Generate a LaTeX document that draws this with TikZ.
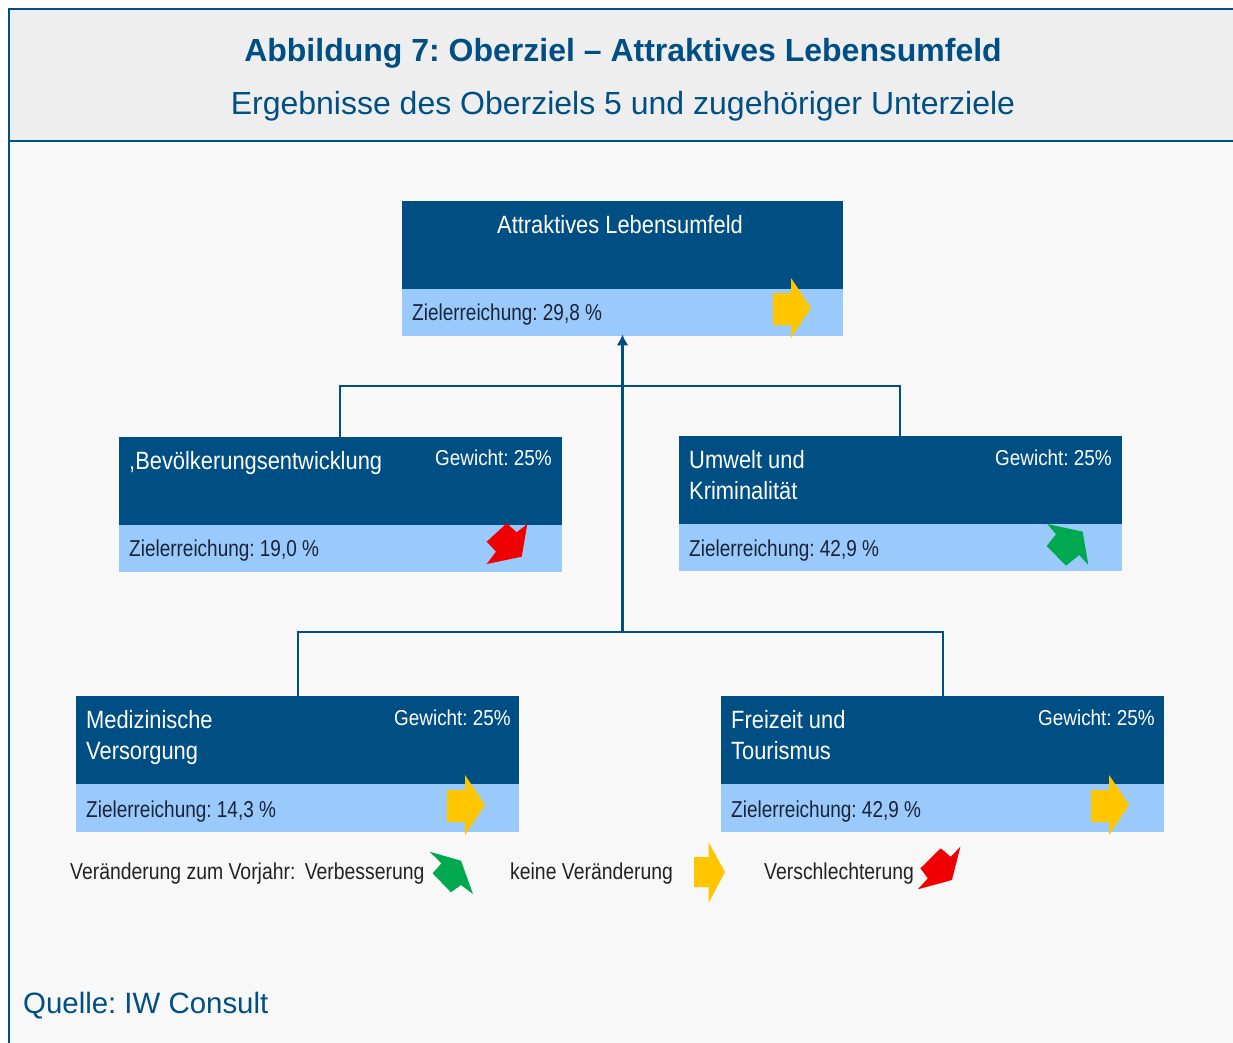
\documentclass[tikz,border=0pt]{standalone}
\usepackage{fontspec}
\usetikzlibrary{arrows.meta}
\setmainfont{Liberation Sans}
\newfontfamily\cond[FakeStretch=0.875]{Liberation Sans}
\newfontfamily\condb[FakeStretch=0.825]{Liberation Sans}
\newfontfamily\condl[FakeStretch=0.843]{Liberation Sans}
\definecolor{iwblue}{HTML}{004F84}
\definecolor{lightbar}{HTML}{9ACAFC}
\definecolor{headbg}{HTML}{EEEEEE}
\definecolor{bodybg}{HTML}{F8F8F8}
\definecolor{bartext}{HTML}{1A2438}
\definecolor{legendcol}{HTML}{222222}
\definecolor{arrowyellow}{HTML}{FFC600}
\definecolor{arrowgreen}{HTML}{00A84F}
\definecolor{arrowred}{HTML}{F00000}
\tikzset{
 darkbox/.style={fill=iwblue,draw=none,inner sep=0pt,anchor=north west,minimum width=443pt,minimum height=88pt},
 lightbox/.style={fill=lightbar,draw=none,inner sep=0pt,anchor=north west,minimum width=443pt,minimum height=47pt},
 titletext/.style={anchor=base west,inner sep=0pt,text=white,font=\cond\fontsize{25}{25}\selectfont},
 weighttext/.style={anchor=base east,inner sep=0pt,text=white,font=\cond\fontsize{21.6}{22}\selectfont},
 bartxt/.style={anchor=base west,inner sep=0pt,text=bartext,font=\condb\fontsize{23}{23}\selectfont},
 legendtxt/.style={anchor=base west,inner sep=0pt,text=legendcol,font=\condl\fontsize{23}{23}\selectfont},
 conn/.style={draw=iwblue,line width=2.8pt},
 yarrow/.pic={\fill[arrowyellow] (-38,-15) -- (-20,-15) -- (-20,-30) -- (0,0) -- (-20,30) -- (-20,17) -- (-38,17) -- cycle;},
}
\frenchspacing
\begin{document}
\begin{tikzpicture}[x=1pt,y=-1pt]
\useasboundingbox (0,0) rectangle (1233,1043);
\fill[white] (0,0) rectangle (1233,1043);
\fill[bodybg] (9,141) rectangle (1233,1043);
\fill[headbg] (9,9) rectangle (1233,141);
\draw[iwblue,line width=2pt] (9,1043) -- (9,9) -- (1233,9);
\draw[iwblue,line width=2pt] (9,141) -- (1233,141);
\node[anchor=base,inner sep=0pt,text=iwblue,font=\bfseries\fontsize{32}{32}\selectfont] (title) at (623,62) {Abbildung 7: Oberziel – Attraktives Lebensumfeld};
\node[anchor=base,inner sep=0pt,text=iwblue,font=\fontsize{32}{32}\selectfont] (subtitle) at (623,115) {Ergebnisse des Oberziels 5 und zugehöriger Unterziele};
% boxes
\node[darkbox,minimum width=441pt] (topD) at (402,201) {};
\node[lightbox,minimum width=441pt] (topL) at (402,289) {};
\node[darkbox] (bevD) at (119,437) {};
\node[lightbox] (bevL) at (119,525) {};
\node[darkbox] (umwD) at (679,436) {};
\node[lightbox] (umwL) at (679,524) {};
\node[darkbox] (medD) at (76,696) {};
\node[lightbox,minimum height=48pt] (medL) at (76,784) {};
\node[darkbox] (freD) at (721,696) {};
\node[lightbox,minimum height=48pt] (freL) at (721,784) {};
% connectors
\coordinate (hub) at (622.5,632);
\coordinate (up) at (622.5,386);
\draw[conn,-{Latex[length=11pt,width=12pt]},shorten >=-2pt] (hub) -- (hub |- topL.south);
\draw[conn] (340,0 |- bevD.north) |- (up) -| (900,0 |- umwD.north);
\draw[conn] (298,0 |- medD.north) |- (hub) -| (943,0 |- freD.north);
% texts
\node[titletext,anchor=base] (t0) at (620,233) {Attraktives Lebensumfeld};
\node[bartxt] (z0) at (412,320) {Zielerreichung: 29,8 \%};
\node[titletext] (t1) at (129,469) {,Bevölkerungsentwicklung};
\node[weighttext] (w1) at (552,465) {Gewicht: 25\%};
\node[bartxt] (z1) at (129,556) {Zielerreichung: 19,0 \%};
\node[titletext] (t2a) at (689,468) {Umwelt und};
\node[titletext] (t2b) at (689,499) {Kriminalität};
\node[weighttext] (w2) at (1112,465) {Gewicht: 25\%};
\node[bartxt] (z2) at (689,556) {Zielerreichung: 42,9 \%};
\node[titletext] (t3a) at (86,728) {Medizinische};
\node[titletext] (t3b) at (86,759) {Versorgung};
\node[weighttext] (w3) at (511,725) {Gewicht: 25\%};
\node[bartxt] (z3) at (86,817) {Zielerreichung: 14,3 \%};
\node[titletext] (t4a) at (731,728) {Freizeit und};
\node[titletext] (t4b) at (731,759) {Tourismus};
\node[weighttext] (w4) at (1155,725) {Gewicht: 25\%};
\node[bartxt] (z4) at (731,817) {Zielerreichung: 42,9 \%};
% trend arrows
\pic at (811,308) {yarrow};
\pic at (485,805) {yarrow};
\pic at (1129,805) {yarrow};
\fill[arrowred] (527.3,524) -- (521.7,556.7) -- (486.7,564) -- (496,551.7) -- (486.7,541.7) -- (506.7,523.3) -- (516.7,532.3) -- cycle;
\fill[arrowgreen] (1047.3,524) -- (1082.7,531.7) -- (1088.3,565) -- (1079.3,555) -- (1066,565.7) -- (1046.7,546) -- (1056,534.3) -- cycle;
% legend
\node[legendtxt] (l1) at (70,879) {Veränderung zum Vorjahr:\hspace{4pt} Verbesserung};
\node[legendtxt] (l2) at (510,879) {keine Veränderung};
\node[legendtxt] (l3) at (764,879) {Verschlechterung};
\fill[arrowgreen] (429.6,851.7) -- (461,860.7) -- (473,894) -- (461,885) -- (451,892.3) -- (432.6,873.3) -- (441.5,863.3) -- cycle;
\fill[arrowyellow] (694,857) -- (708.5,857) -- (708.5,842) -- (725,872) -- (708.5,903) -- (708.5,887) -- (694,887) -- cycle;
\fill[arrowred] (960.4,846.7) -- (951.9,880) -- (917.8,889.3) -- (927.8,878.3) -- (920.4,868.3) -- (940.7,848.3) -- (950.7,856.7) -- cycle;
\node[anchor=base west,inner sep=0pt,text=iwblue,font=\fontsize{29.4}{29.4}\selectfont] (src) at (23,1013) {Quelle: IW Consult};
\end{tikzpicture}
\end{document}
